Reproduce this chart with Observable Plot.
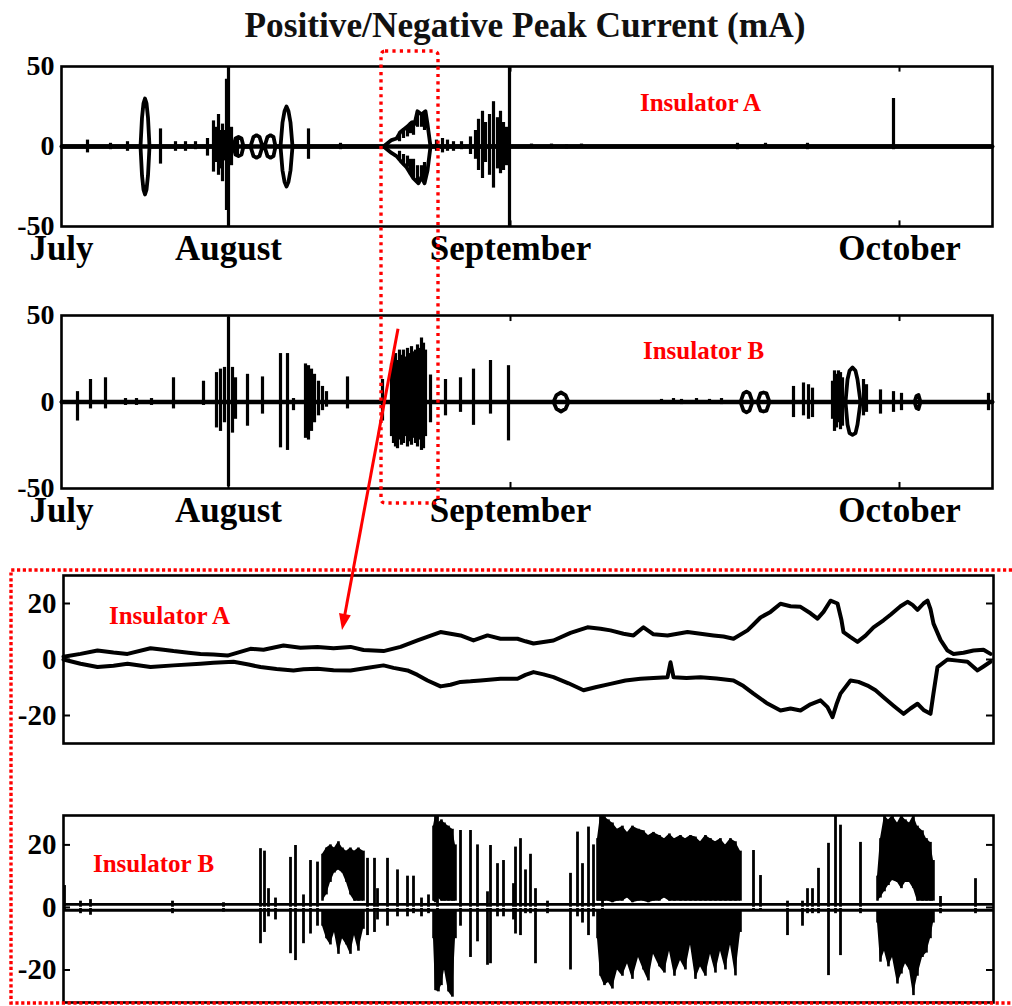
<!DOCTYPE html>
<html><head><meta charset="utf-8">
<script src="https://cdn.jsdelivr.net/npm/d3@7"></script>
<script src="https://cdn.jsdelivr.net/npm/@observablehq/plot@0.6"></script>
<style>
body{margin:0;background:#fff;}
#wrap{position:relative;width:1012px;height:1006px;overflow:hidden;font-family:"Liberation Serif","Times New Roman",serif;}
.panel{position:absolute;left:0;}
#title{position:absolute;left:0;width:1050px;top:9px;line-height:34px;text-align:center;font-weight:bold;font-size:35.3px;color:#111;}
</style></head><body>
<div id="wrap"><div id="title">Positive/Negative Peak Current (mA)</div></div>
<script>
// ---------- shared axes ----------
const monthNames = ["July", "August", "September", "October"];
const monthTicks = [0, 167, 449, 838];          // sample index of month starts
const spanFull = [0, 931];
const spanZoom = [0, 930];
const yTicksFull = [-50, 0, 50];
const yTicksZoom = [-20, 0, 20];
const zoomWindow = [320, 377];                 // part of the full record shown in the zoom panels

// ---------- Insulator A, full record: positive / negative peak envelopes ----------
const peakPosA = [[0,0],[79,0],[80.5,18],[82,27],[83.5,30],[85,27],[86.5,18],[88,0],
  [172,0],[174,5],[177,6],[180,5],[182,0],[189,0],[192,6],[195,7],[198,6],[201,0],
  [203,0],[206,6],[209,7],[212,6],[214,0],[219,0],[221,15],[223,22],[225,25],[227,22],[229,15],[231,0],
  [322,0],[330,4],[335,5],[339,9],[345,12],[350,15],[353,14],[356,22],[360,20],[364,22],[366,14],[369,0],[931,0]];
const peakNegA = [[0,0],[79,0],[80.5,-18],[82,-27],[83.5,-30],[85,-27],[86.5,-18],[88,0],
  [172,0],[174,-5],[177,-6],[180,-5],[182,0],[189,0],[192,-6],[195,-7],[198,-6],[201,0],
  [203,0],[206,-6],[209,-7],[212,-6],[214,0],[219,0],[221,-15],[223,-22],[225,-25],[227,-22],[229,-15],[231,0],
  [322,0],[330,-4],[335,-6],[339,-9],[345,-13],[352,-20],[357,-23],[360,-19],[363,-23],[366,-15],[369,0],[931,0]];
const spikesA = [[26,4,-4],[49,2,-2],[66,3,-3],[99,11,-11],[114,3,-3],[124,3,-3],[134,3,-2],[146,5,-6],
  [152,16,-16],[155,12,-10],[157,20,-18],[159,10,-14],[161,14,-22],[163,10,-9],[165,42,-40],[167,50,-50],
  [170,12,-12],[176,6,-5],[247,11,-8],[279,2,-2],
  [338,9,3],[342,11,5],[346,13,6],[349,15,8],[352,16,7],[356,22,12],[360,20,12],[363,22,10],
  [338,-3,-9],[342,-5,-12],[346,-6,-13],[349,-8,-18],[352,-8,-20],[356,-12,-22],[360,-12,-19],[363,-10,-23],
  [375,4,-3],[381,5,-4],[386,4,-3],[392,3,-3],[400,3,-2],[409,6,-5],[414,10,-8],[417,17,-15],[421,22,-20],
  [424,15,-10],[428,20,-18],[432,28,-26],[436,18,-14],[439,22,-17],[442,15,-15],[445,12,-12],[448,50,-50],
  [470,1.5,-1],[490,1.5,-1.5],[505,1,-1.5],[520,1.5,-1],[676,2,-2],[704,2,-1],[746,2,-2],[832,30,-2]];

// ---------- Insulator B, full record ----------
const peakPosB = [[0,0],[492,0],[495,4],[499.5,5.5],[504,4],[507,0],[679,0],[682,5],[685,6],[688,5],[691,0],
  [696,0],[699,5],[702,5.5],[705,5],[708,0],[784,0],[786,13],[788,18],[791,20],[794,18],[796,13],[799,0],
  [853,0],[855,3.5],[857,4],[859,0],[931,0]];
const peakNegB = [[0,0],[492,0],[495,-4],[499.5,-5.5],[504,-4],[507,0],[679,0],[682,-5],[685,-6],[688,-5],[691,0],
  [696,0],[699,-5],[702,-5.5],[705,-5],[708,0],[784,0],[786,-13],[788,-18],[791,-19],[794,-18],[796,-13],[799,0],
  [853,0],[855,-3.5],[857,-4],[859,0],[931,0]];
const spikesB = [[16,6,-11],[29,13,-4],[44,14,-4],[64,2,-2],[75,2,-2],[90,2,-2],[112,14,-4],[142,12,-2],
  [155,17,-15],[159,19,-17],[163,20,-12],[167,49,-49],[171,20,-18],[174,14,-10],[186,16,-14],[201,14.5,-7],
  [219,28,-26.5],[226,28,-28],[232,2,-5],[244,22,-21],[247,21,-22],[250,19,-17],[253,16,-12],[257,12,-8],
  [261,9,-5],[265,6,-3],[286,14.5,-4],[321,13,-11],
  [330,22,-20],[332,26,-24],[334,28,-26],[336,24,-27],[338,30,-22],[340,27,-25],[342,30,-24],[344,26,-20],
  [346,31,-26],[348,28,-23],[350,32,-25],[352,29,-21],[354,30,-24],[356,33,-26],[358,31,-22],[360,37,-28],
  [362,34,-27],[364,30,-20],[369,15.6,-12],[384,13,-8],[399,14,-6],[412,19,-13.5],[429,24,-7],[447,21,-22.5],
  [600,1.5,-1],[612,2,-1],[620,1.5,-1.5],[635,2,-1],[648,1.5,-1],[660,2,-1.5],
  [732,9,-9],[742,11,-8],[747,10,-10],[751,8,-9],[771,12,-10],[773,18,-17],[775,16,-15],[777,18,-12],
  [779,17,-16],[781,14,-14],[802,13,-8],[805,10,-6],[819,7,-7],[832,6,-6],[840,5,-5],[927,5,-5]];

// ---------- Insulator A, zoomed window ----------
const zoomPosA = [[0,1],[17,2],[34,3.2],[50,2.5],[64,2],[87,4],[100,3.5],[110,3],[125,2.4],[137,2],[150,1.8],[164,1.4],
  [187,3.8],[200,3.5],[220,5],[237,4.2],[254,4.5],[270,4],[287,4.5],[300,3.4],[320,3],[337,4.5],[354,6.8],
  [377,9.8],[387,9.2],[397,8.6],[410,6.8],[424,8.6],[437,7.4],[454,7.4],[462,6.5],[470,5.7],[490,6.8],
  [507,9.5],[524,11.5],[537,11],[547,10.4],[560,9.2],[570,8.6],[580,11.5],[590,9],[604,8.6],[624,9.8],
  [637,9.2],[650,8.6],[660,8.2],[670,7.4],[684,10.4],[690,12.5],[697,15],[707,17],[717,19.9],[727,19],
  [737,18.8],[747,16.5],[754,14.6],[760,17],[767,21],[774,20],[778,14],[780,9.8],[787,8],[794,6.3],
  [802,8.5],[810,11.5],[820,14],[827,16],[837,19],[844,20.6],[849,19.5],[854,17.7],[860,20],[864,21],
  [867,18],[870,12.8],[877,7],[884,3.2],[890,2],[900,2.4],[910,3.2],[920,3.5],[927,2]];
const zoomNegA = [[0,0],[17,-1.5],[34,-2.7],[50,-2.2],[64,-1.5],[87,-2.7],[110,-2.1],[137,-1.5],[150,-1.2],[170,-0.8],
  [185,-1.8],[197,-2.7],[213,-3.4],[230,-3.9],[240,-3.5],[254,-3.3],[270,-3.8],[287,-3.9],[303,-3],[320,-2.1],
  [330,-3],[344,-3.9],[354,-5.5],[364,-7.5],[377,-9.6],[387,-9],[397,-8],[407,-7.8],[417,-7.5],[437,-6.9],
  [454,-6.9],[462,-5.5],[470,-4.5],[480,-5.3],[490,-6.3],[505,-8.5],[520,-11],[533,-9.8],[547,-8.7],
  [562,-7.5],[577,-6.9],[590,-6.6],[604,-6.3],[607,-1],[610,-6.3],[623,-6.6],[637,-6.3],[653,-6.8],[670,-7.5],
  [680,-9.5],[690,-12.2],[703,-15.5],[717,-18.2],[727,-17.5],[737,-18.2],[747,-16],[757,-14.6],[764,-17],
  [769,-20.6],[773,-16],[777,-12.2],[787,-7.5],[795,-8],[804,-9.3],[812,-11],[820,-13.5],[830,-16.5],
  [840,-19.4],[847,-17.5],[854,-15.8],[860,-18],[867,-19.4],[870,-12],[874,-2.7],[884,0],[894,-0.4],
  [904,-0.8],[914,-3.9],[920,-2.5],[927,-0.8]];

// ---------- Insulator B, zoomed window ----------
// dense bursts: [t, top, inner top, inner bottom, bottom]
const burstsB = [
  [259,17,2,-1,-6],[263,19,4,-1,-10],[267,20,8,-1,-12],[271,19,11,-1,-8],[275,21,12,-1,-15],[279,19,11,-1,-10],
  [283,18,8,-1,-12],[287,19,4,-1,-15],[291,18,2,-1,-9],[295,19,2,-1,-14],[300,18,2,-1,-7],
  [370,26,2,-1,-10],[372,29.4,1.5,-1,-26.6],[375,27,3,-1,-27],[378,28,2,-1,-25],[381,27,2,-1,-20],
  [385,26,2,-1,-27],[389,25,2,-1,-28.7],[392,20,2,-1,-10],
  [534,22,2,-1,-10],[537,29.4,2,-1,-22],[541,29,2,-1,-25],[545,28,2,-1,-24],[549,27,1.5,-1,-26.1],
  [554,25,2,-1,-20],[559,26,2,-1,-22],[564,24,3,-1,-18],[569,26,1.5,-1,-23],[575,25,2,-1,-16],
  [580,24.5,2,-1,-20],[585,23,1.5,-1,-23.5],[590,24,2,-1,-15],[596,23,2,-1,-19],[601,22,3,-1,-21],
  [606,23.5,2,-1,-14],[611,22,2,-1,-22],[617,23,2,-1,-17],[622,22,2,-1,-20],[627,23,2,-1,-12],
  [632,22.5,2,-1,-23],[637,21,2,-1,-19],[642,23,2,-1,-22],[647,22,2,-1,-15],[652,21,2,-1,-21],
  [657,22,2,-1,-14],[662,20,2,-1,-20],[667,22,2,-1,-12],[672,21,2,-1,-21.9],[677,18,2,-1,-8],
  [814,10,2,-1,-5],[817,22,3,-1,-17.5],[821,29.4,5,-1,-14],[825,28,7,-1,-19],[829,29.4,8.6,-1,-16],
  [834,27,8,-1,-24.5],[838,29.4,6,-1,-21.3],[842,28,8,-1,-18],[846,27,8,-1,-20],[850,29.4,6,-1,-28.2],
  [854,26,2,-1,-22],[859,24.5,2,-1,-16],[863,22,2,-1,-14.6],[867,20.8,2,-1,-10],[870,15,2,-1,-5]];
const burstGroups = [[259,300],[370,392],[534,677],[814,870]];
const zoomSpikesB = [[1,7,-1],[17,2,-2],[27,2.5,-2.5],[109,2,-2],[160,1.5,-1.5],
  [197,18.8,-11.6],[201,18,-8],[205,6,-3],[212,3,-4],[227,16,-14.8],[232,19.8,-17],[240,4,-11.6],
  [247,15,-8.5],[254,14.5,-6],[304,15.7,-9],[311,15.7,-8],[314,6,-4],[324,15.7,-6],[334,12,-3],
  [344,10,-3],[350,10,-2],[358,3,-3],[365,4,-2],[374,29.4,-26],[397,24.6,-6],[407,24.6,-16],
  [414,20,-11],[424,5,-18.5],[427,19.8,-18],[434,14,-3],[440,15,-3],[450,7.6,-4],[452,19.3,-8.5],
  [457,22,-9],[462,12,-2],[467,17,-2],[472,6,-18],[484,2,-2],[507,10.9,-20],[514,24.1,-3],[519,14,-5],
  [525,25.7,-9],[530,20,-3],[539,29.4,-5],[690,18.2,-1],[697,10.2,-1],[724,2,-9],[739,2,-6],[744,6,-2],
  [749,6,-2],[755,12.5,-2],[765,20.5,-21.8],[772,29.4,-2],[777,26.3,-15.4],[797,20.8,-2],[877,3.5,-2],[912,9.2,-2]];

// ---------- labels ----------
const panelLabels = ["Insulator A", "Insulator B", "Insulator A", "Insulator B"];
const labelPos = [[639, 27.5], [642, 29.5], [106, 15.7], [90, 13.8]];

// ---------- drawing ----------
const FONT = "Liberation Serif, Times New Roman, serif";
const wrap = document.getElementById("wrap");
const baseStyle = {fontFamily: FONT, background: "transparent", overflow: "visible", color: "#000"};
const X = d => d[0];

function place(svg, top) {
  svg.classList.add("panel");
  svg.style.position = "absolute";
  svg.style.top = top + "px";
  svg.style.left = "0px";
  wrap.appendChild(svg);
  return svg;
}

function fullPanel(pos, neg, spikes, idx, height, mt, mb) {
  return Plot.plot({
    width: 1012, height, marginLeft: 61, marginRight: 20, marginTop: mt, marginBottom: mb,
    x: {domain: spanFull, axis: null},
    y: {domain: [-50, 50], axis: null},
    style: baseStyle,
    marks: [
      Plot.ruleX(spikes, {x: X, y1: d => d[2], y2: d => d[1], strokeWidth: 3.2}),
      Plot.line(pos, {x: X, y: d => d[1], strokeWidth: 3.8}),
      Plot.line(neg, {x: X, y: d => d[1], strokeWidth: 3.8}),
      Plot.ruleY([0], {strokeWidth: 4.6}),
      Plot.ruleX(monthTicks.slice(1), {y1: 50, y2: 46.5, strokeWidth: 2}),
      Plot.ruleX(monthTicks.slice(1), {y1: -50, y2: -46.5, strokeWidth: 2}),
      Plot.frame({strokeWidth: 2.6}),
      Plot.axisY({ticks: yTicksFull, tickSize: 0, tickPadding: 7, fontSize: 28, fontWeight: "bold", label: null, tickFormat: d => String(d)}),
      Plot.axisX({ticks: monthTicks, tickSize: 0, tickPadding: 9, fontSize: 35, fontWeight: "bold", label: null,
        tickFormat: d => monthNames[monthTicks.indexOf(d)]}),
      Plot.text([panelLabels[idx]], {x: labelPos[idx][0], y: labelPos[idx][1], text: d => d, fill: "#ff0000", fontSize: 25, fontWeight: "bold"})
    ]
  });
}

function zoomFrameMarks() {
  return [
    Plot.ruleY(yTicksZoom, {x1: 0, x2: 7, strokeWidth: 2}),
    Plot.ruleY(yTicksZoom, {x1: 923, x2: 930, strokeWidth: 2}),
    Plot.frame({strokeWidth: 2.6}),
    Plot.axisY({ticks: yTicksZoom, tickSize: 0, tickPadding: 7, fontSize: 29, fontWeight: "bold", label: null, tickFormat: d => String(d)})
  ];
}

const p1 = place(fullPanel(peakPosA, peakNegA, spikesA, 0, 230, 26, 44), 40);
const p2 = place(fullPanel(peakPosB, peakNegB, spikesB, 1, 260, 25, 62), 290);

const p3 = place(Plot.plot({
  width: 1012, height: 200, marginLeft: 63, marginRight: 19, marginTop: 15, marginBottom: 17,
  x: {domain: spanZoom, axis: null},
  y: {domain: [-30, 30], axis: null},
  style: baseStyle,
  marks: [
    Plot.line(zoomPosA, {x: X, y: d => d[1], strokeWidth: 4}),
    Plot.line(zoomNegA, {x: X, y: d => d[1], strokeWidth: 4}),
    ...zoomFrameMarks(),
    Plot.text([panelLabels[2]], {x: labelPos[2][0], y: labelPos[2][1], text: d => d, fill: "#ff0000", fontSize: 25, fontWeight: "bold"})
  ]
}), 560);

const burstSets = burstGroups.map(([a, b]) => burstsB.filter(d => d[0] >= a && d[0] <= b));
const p4 = place(Plot.plot({
  width: 1012, height: 206, marginLeft: 63, marginRight: 19, marginTop: 15, marginBottom: 4,
  x: {domain: spanZoom, axis: null},
  y: {domain: [-30.4, 29.4], axis: null},
  style: baseStyle,
  marks: [
    ...burstSets.map(s => Plot.areaY(s, {x: X, y1: d => d[2], y2: d => d[1], fill: "#000"})),
    ...burstSets.map(s => Plot.areaY(s, {x: X, y1: d => d[3], y2: d => d[4], fill: "#000"})),
    Plot.ruleX(burstsB, {x: X, y1: d => d[4], y2: d => d[3], strokeWidth: 2.6}),
    Plot.ruleX(burstsB, {x: X, y1: d => d[2], y2: d => d[1], strokeWidth: 2.6}),
    Plot.ruleX(zoomSpikesB, {x: X, y1: d => d[2], y2: d => d[1], strokeWidth: 2.8}),
    Plot.ruleY([1.0, -0.9], {strokeWidth: 2.8}),
    Plot.ruleY([0.05], {stroke: "#fff", strokeWidth: 1.3}),
    ...zoomFrameMarks(),
    Plot.text([panelLabels[3]], {x: labelPos[3][0], y: labelPos[3][1], text: d => d, fill: "#ff0000", fontSize: 25, fontWeight: "bold"})
  ]
}), 800);

// ---------- red annotations (positions from the panels' scales) ----------
const sx1 = p1.scale("x"), sy1 = p1.scale("y"), sy2 = p2.scale("y");
const sx3 = p3.scale("x"), sy3 = p3.scale("y"), sx2 = p2.scale("x");
const ns = "http://www.w3.org/2000/svg";
const ov = document.createElementNS(ns, "svg");
ov.setAttribute("width", 1012); ov.setAttribute("height", 1006);
ov.style.position = "absolute"; ov.style.left = "0"; ov.style.top = "0"; ov.style.pointerEvents = "none";
wrap.appendChild(ov);
function el(tag, attrs) { const e = document.createElementNS(ns, tag); for (const k in attrs) e.setAttribute(k, attrs[k]); ov.appendChild(e); return e; }

const bx0 = sx1.apply(zoomWindow[0]), bx1 = sx1.apply(zoomWindow[1]);
const by0 = 40 + sy1.apply(50) - 15, by1 = 290 + sy2.apply(-50) + 15;
el("rect", {x: bx0, y: by0, width: bx1 - bx0, height: by1 - by0, rx: 4, fill: "none", stroke: "#ff0000", "stroke-width": 3.4, "stroke-dasharray": "3.2 4.2"});

const zx0 = sx3.apply(0) - 52, zy0 = 560 + sy3.apply(30) - 5, zy1 = 1003;
el("path", {d: `M${1012} ${zy0} H${zx0} V${zy1} H${1012}`, fill: "none", stroke: "#ff0000", "stroke-width": 3.4, "stroke-dasharray": "3.2 2.6"});

const ax0 = sx2.apply(337), ay0 = 290 + sy2.apply(42);
const ax1 = sx3.apply(279), ay1 = 560 + sy3.apply(10.4);
const dx = ax1 - ax0, dy = ay1 - ay0, L = Math.hypot(dx, dy), ux = dx / L, uy = dy / L;
const hl = 16, hw = 6;
el("line", {x1: ax0, y1: ay0, x2: ax1 - ux * hl * 0.8, y2: ay1 - uy * hl * 0.8, stroke: "#ff0000", "stroke-width": 3});
el("path", {d: `M${ax1} ${ay1} L${ax1 - ux * hl - uy * hw} ${ay1 - uy * hl + ux * hw} L${ax1 - ux * hl + uy * hw} ${ay1 - uy * hl - ux * hw} Z`, fill: "#ff0000"});
</script>
</body></html>
